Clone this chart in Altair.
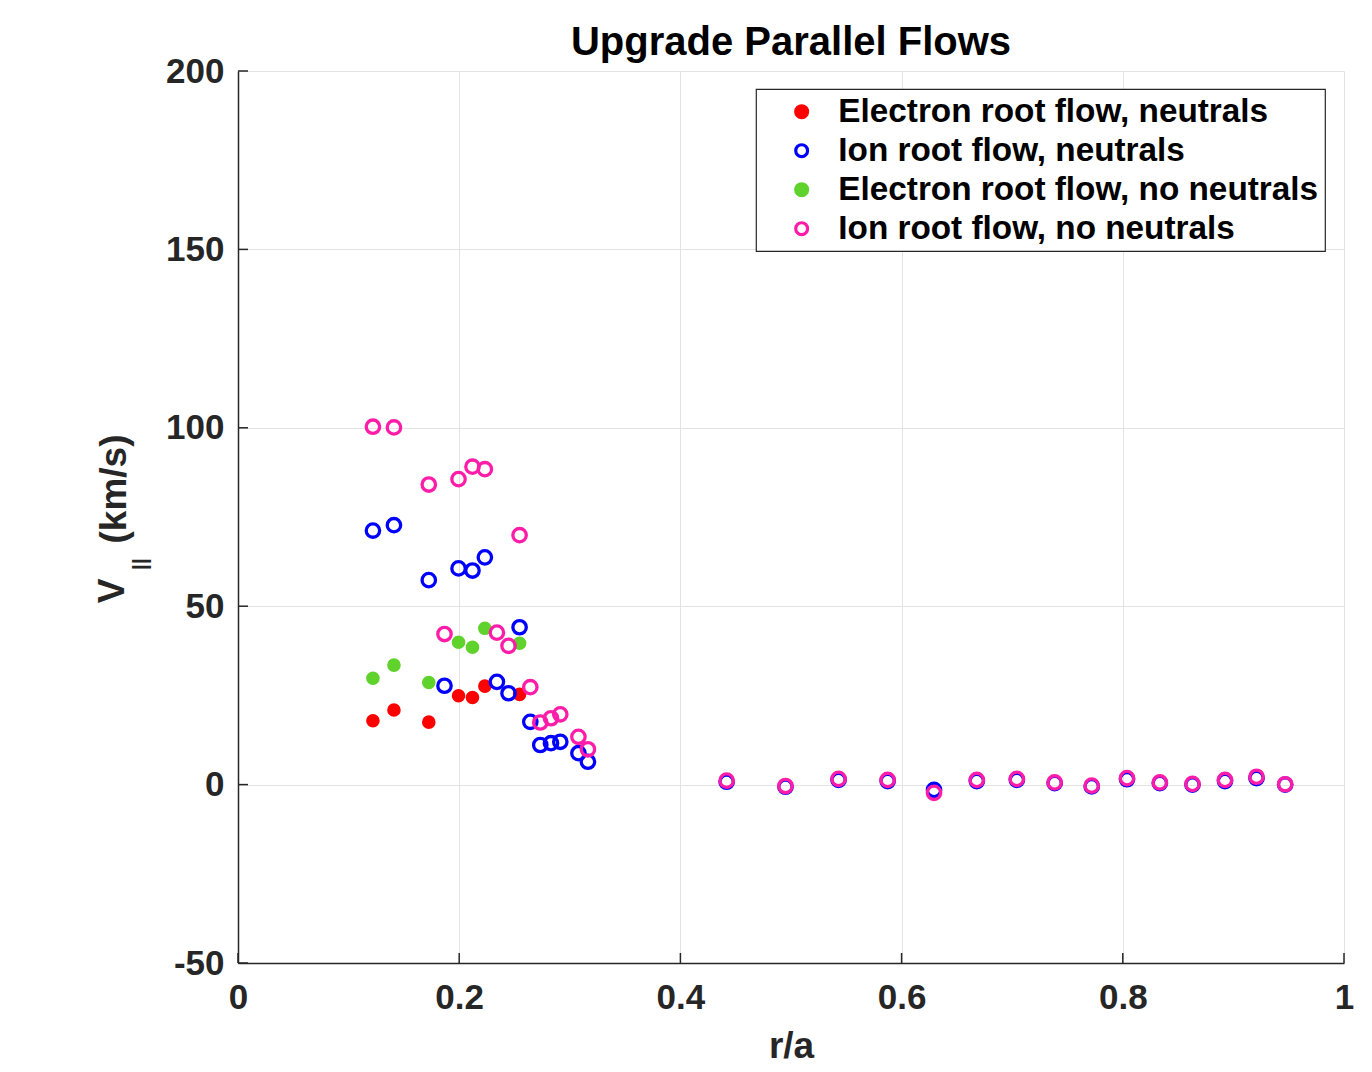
import altair as alt
import pandas as pd

# Radial positions (r/a) where the electron-root solution exists
r_electron = [0.122, 0.141, 0.1725, 0.1994, 0.212, 0.2232, 0.2546]
v_electron_neutrals = [17.9, 20.9, 17.5, 24.9, 24.4, 27.6, 25.3]
v_electron_no_neutrals = [29.8, 33.5, 28.6, 39.9, 38.5, 43.8, 39.6]

# Radial positions (r/a) where the ion-root solution exists
r_ion = [0.122, 0.141, 0.1725, 0.1867, 0.1994, 0.212, 0.2232, 0.2341, 0.2446,
         0.2546, 0.2643, 0.2733, 0.283, 0.2914, 0.3078, 0.3164,
         0.4418, 0.495, 0.543, 0.5874, 0.6293, 0.668, 0.7042, 0.7384,
         0.7719, 0.8038, 0.8335, 0.863, 0.8924, 0.9209, 0.9468]
v_ion_neutrals = [71.2, 72.7, 57.3, 27.7, 60.6, 60.0, 63.7, 28.8, 25.6,
                  44.1, 17.6, 11.1, 11.6, 12.0, 8.8, 6.4,
                  0.8, -0.6, 1.3, 1.0, -1.5, 1.0, 1.3, 0.4,
                  -0.5, 1.5, 0.4, 0.0, 1.0, 1.8, 0.0]
v_ion_no_neutrals = [100.3, 100.1, 84.1, 42.2, 85.6, 89.1, 88.4, 42.6, 38.9,
                     69.9, 27.3, 17.4, 18.6, 19.7, 13.4, 9.9,
                     1.1, -0.4, 1.6, 1.3, -2.3, 1.3, 1.6, 0.6,
                     -0.3, 1.8, 0.6, 0.2, 1.3, 2.2, 0.1]

series_names = [
    "Electron root flow, neutrals",
    "Ion root flow, neutrals",
    "Electron root flow, no neutrals",
    "Ion root flow, no neutrals",
]
stroke_colors = ["#ff0000", "#0000ff", "#5fd22c", "#ff1ca8"]
fill_colors = ["#ff0000", "transparent", "#5fd22c", "transparent"]

x_ticks = [0, 0.2, 0.4, 0.6, 0.8, 1]
y_ticks = [-50, 0, 50, 100, 150, 200]

rows = []
for i, (rs, vs) in enumerate([
    (r_electron, v_electron_neutrals),
    (r_ion, v_ion_neutrals),
    (r_electron, v_electron_no_neutrals),
    (r_ion, v_ion_no_neutrals),
]):
    for r, v in zip(rs, vs):
        rows.append({"r": r, "v": v, "series": series_names[i], "idx": i})
df = pd.DataFrame(rows)

FONT = "Liberation Sans"
AXIS_COLOR = "#262626"
W, H = 1106, 892

x_scale = alt.Scale(domain=[0, 1], nice=False, zero=False)
y_scale = alt.Scale(domain=[-50, 200], nice=False, zero=False)

# Ion-root series (odd idx) are open circles, electron-root series are solid dots
is_open = "datum.idx % 2 == 1"

legend = alt.Legend(title=None, symbolStrokeWidth=3.2, symbolSize=140)

points = alt.Chart(df).mark_point(shape="circle", opacity=1).encode(
    x=alt.X("r:Q", scale=x_scale,
            axis=alt.Axis(title="r/a", values=x_ticks, labelExpr="toString(datum.value)")),
    y=alt.Y("v:Q", scale=y_scale,
            axis=alt.Axis(title=None, values=y_ticks, labelExpr="toString(datum.value)")),
    stroke=alt.Stroke("series:N", scale=alt.Scale(domain=series_names, range=stroke_colors),
                      legend=legend),
    fill=alt.Fill("series:N", scale=alt.Scale(domain=series_names, range=fill_colors),
                  legend=legend),
    strokeWidth=alt.condition(is_open, alt.value(3.3), alt.value(0)),
    size=alt.condition(is_open, alt.value(180), alt.value(185)),
    order=alt.Order("idx:Q"),
)

# Short inward tick marks along the left and bottom axes
x_tick_marks = alt.Chart(pd.DataFrame({"r": x_ticks})).mark_rule(
    color=AXIS_COLOR, strokeWidth=1.5
).encode(x=alt.X("r:Q", scale=x_scale), y=alt.value(H), y2=alt.value(H - 10))

y_tick_marks = alt.Chart(pd.DataFrame({"v": y_ticks})).mark_rule(
    color=AXIS_COLOR, strokeWidth=1.5
).encode(y=alt.Y("v:Q", scale=y_scale), x=alt.value(0), x2=alt.value(10))

# Rotated y-axis title: V with a "||" subscript, then the unit
title_style = dict(font=FONT, fontWeight="bold", color=AXIS_COLOR, angle=270,
                   align="center", baseline="middle")
y_title_v = alt.Chart(pd.DataFrame({"t": ["V"]})).mark_text(
    fontSize=37, **title_style
).encode(text="t:N", x=alt.value(-125), y=alt.value(520))
y_title_sub = alt.Chart(pd.DataFrame({"t": ["||"]})).mark_text(
    fontSize=21, **title_style
).encode(text="t:N", x=alt.value(-97), y=alt.value(493))
y_title_unit = alt.Chart(pd.DataFrame({"t": ["(km/s)"]})).mark_text(
    fontSize=37, **title_style
).encode(text="t:N", x=alt.value(-123), y=alt.value(418))

chart = alt.layer(
    points, x_tick_marks, y_tick_marks, y_title_v, y_title_sub, y_title_unit
).properties(
    width=W,
    height=H,
    title=alt.Title("Upgrade Parallel Flows", font=FONT, fontSize=40,
                    fontWeight="bold", color="#000000", offset=-9),
    autosize=alt.AutoSizeParams(type="none"),
    padding={"left": 238, "top": 71, "right": 28, "bottom": 109},
).configure_view(
    stroke=None
).configure_axis(
    labelFont=FONT, labelFontSize=35, labelFontWeight="bold", labelColor=AXIS_COLOR,
    titleFont=FONT, titleFontSize=37, titleFontWeight="bold", titleColor=AXIS_COLOR,
    domainColor=AXIS_COLOR, domainWidth=1.5,
    tickSize=0, grid=True, gridColor="#e3e3e3", gridWidth=1,
).configure_axisX(
    labelPadding=17, titlePadding=13, labelFlush=False,
).configure_axisY(
    labelPadding=14,
).configure_legend(
    orient="none", legendX=518, legendY=18,
    strokeColor="#262626", strokeWidth=1.2, fillColor="#ffffff",
    padding=6, labelFont=FONT, labelFontSize=33.3, labelFontWeight="bold",
    labelColor="#000000", labelOffset=20, symbolOffset=23,
    symbolType="circle", rowPadding=5,
    labelLimit=1000,
)

chart.save("out.html", embed_options={"renderer": "svg", "actions": False})
